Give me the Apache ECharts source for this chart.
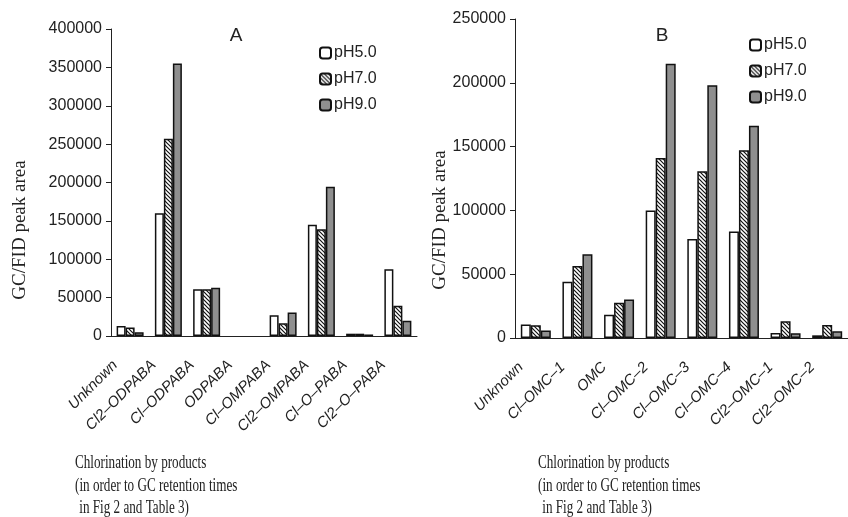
<!DOCTYPE html>
<html><head><meta charset="utf-8">
<script src="https://cdn.jsdelivr.net/npm/echarts@6/dist/echarts.min.js"></script>
<style>html,body{margin:0;padding:0;background:#fff}#c{width:848px;height:517px}</style>
</head><body><div id="c"></div>
<script>
const seriesNames = ['pH5.0', 'pH7.0', 'pH9.0'];
const catsA = ['Unknown', 'Cl2–ODPABA', 'Cl–ODPABA', 'ODPABA', 'Cl–OMPABA', 'Cl2–OMPABA', 'Cl–O–PABA', 'Cl2–O–PABA'];
const pH5A = [13000, 160000, 61000, 0, 27000, 145000, 3000, 87000];
const pH7A = [11000, 257000, 61000, 0, 16500, 139000, 3000, 39500];
const pH9A = [5000, 355000, 63000, 0, 30500, 194500, 2000, 20000];
const catsB = ['Unknown', 'Cl–OMC–1', 'OMC', 'Cl–OMC–2', 'Cl–OMC–3', 'Cl–OMC–4', 'Cl2–OMC–1', 'Cl2–OMC–2'];
const pH5B = [10500, 44000, 18300, 100000, 77600, 83400, 3900, 2100];
const pH7B = [10000, 56500, 27700, 141000, 130700, 147200, 13100, 10200];
const pH9B = [5800, 65600, 30100, 215000, 198000, 166300, 3700, 5200];
const yTicksA = [0, 400000, 50000];
const yTicksB = [0, 250000, 50000];
const titleA = 'A', titleB = 'B';
const yName = 'GC/FID peak area';
const caption = ['Chlorination by products', '(in order to GC retention times', ' in Fig 2 and Table 3)'];

function hatch() {
  const s = 4, c = document.createElement('canvas');
  c.width = s; c.height = s;
  const g = c.getContext('2d');
  g.fillStyle = '#fff'; g.fillRect(0, 0, s, s);
  g.strokeStyle = '#111'; g.lineWidth = 1.2;
  g.beginPath();
  g.moveTo(-1, -1); g.lineTo(s + 1, s + 1);
  g.moveTo(-1, s - 1); g.lineTo(1, s + 1);
  g.moveTo(s - 1, -1); g.lineTo(s + 1, 1);
  g.stroke();
  return c;
}
const fills = ['#ffffff', { image: hatch(), repeat: 'repeat' }, '#8f8f8f'];
const AX = '#222';

function xAxis(idx, cats, pad) {
  return {
    type: 'category', gridIndex: idx, data: cats,
    axisLine: { lineStyle: { color: AX, width: 1 } },
    axisTick: { inside: true, length: 4, lineStyle: { color: AX } },
    axisLabel: { rotate: 45, interval: 0, margin: 12, padding: [0, pad, 0, 0], fontStyle: 'italic', fontSize: 15, fontFamily: 'Liberation Sans', color: '#222' }
  };
}
function yAxis(idx, t) {
  return {
    type: 'value', gridIndex: idx, min: t[0], max: t[1], interval: t[2],
    axisLine: { show: true, lineStyle: { color: AX, width: 1 } },
    axisTick: { show: true, length: 5, lineStyle: { color: AX } },
    splitLine: { show: false },
    axisLabel: { margin: 9, fontSize: 16, fontFamily: 'Liberation Sans', color: '#222', formatter: v => String(v) }
  };
}
function bars(idx, data, w) {
  return data.map((d, i) => ({
    name: seriesNames[i], type: 'bar', xAxisIndex: idx, yAxisIndex: idx,
    data: d.map(v => v === 0 ? { value: v, itemStyle: { borderWidth: 0 } } : v),
    barWidth: w, barGap: '0%',
    itemStyle: { color: fills[i], borderColor: '#111', borderWidth: 1.5 },
    emphasis: { disabled: true }
  }));
}
function capText(x, lines) {
  const ys = [463, 486, 508];
  return lines.map((t, i) => ({
    type: 'text', x: x + (i === 2 ? 1 : 0), y: ys[i], scaleX: 0.73,
    style: { text: t, fontSize: 18, fontFamily: 'Liberation Serif', fill: '#222', verticalAlign: 'middle', align: 'left' }
  }));
}
function legend(left, top) {
  return {
    data: seriesNames, orient: 'vertical', left: left, top: top,
    itemWidth: 11, itemHeight: 11, itemGap: 10, selectedMode: false,
    textStyle: { fontSize: 16, fontFamily: 'Liberation Sans', color: '#222', padding: [0, 0, 0, -2] }
  };
}
const chart = echarts.init(document.getElementById('c'), null, { renderer: 'canvas' });
chart.setOption({
  animation: false,
  backgroundColor: '#fff',
  grid: [
    { left: 111, right: 431, top: 29, bottom: 181 },
    { left: 515, right: -5, top: 19, bottom: 179 }
  ],
  xAxis: [xAxis(0, catsA, 21), xAxis(1, catsB, 21)],
  yAxis: [yAxis(0, yTicksA), yAxis(1, yTicksB)],
  legend: [legend(314, 40), legend(744, 32)],
  series: [...bars(0, [pH5A, pH7A, pH9A], 9), ...bars(1, [pH5B, pH7B, pH9B], 10)],
  graphic: [
    { type: 'text', x: 236, y: 36, style: { text: titleA, fontSize: 19, fontFamily: 'Liberation Sans', fill: '#222', align: 'center', verticalAlign: 'middle' } },
    { type: 'text', x: 662, y: 36, style: { text: titleB, fontSize: 19, fontFamily: 'Liberation Sans', fill: '#222', align: 'center', verticalAlign: 'middle' } },
    { type: 'text', x: 20, y: 230, rotation: Math.PI / 2, style: { text: yName, fontSize: 19, fontFamily: 'Liberation Serif', fill: '#222', align: 'center', verticalAlign: 'middle' } },
    { type: 'text', x: 440, y: 220, rotation: Math.PI / 2, style: { text: yName, fontSize: 19, fontFamily: 'Liberation Serif', fill: '#222', align: 'center', verticalAlign: 'middle' } },
    ...capText(75, caption), ...capText(538, caption)
  ]
});
</script></body></html>
